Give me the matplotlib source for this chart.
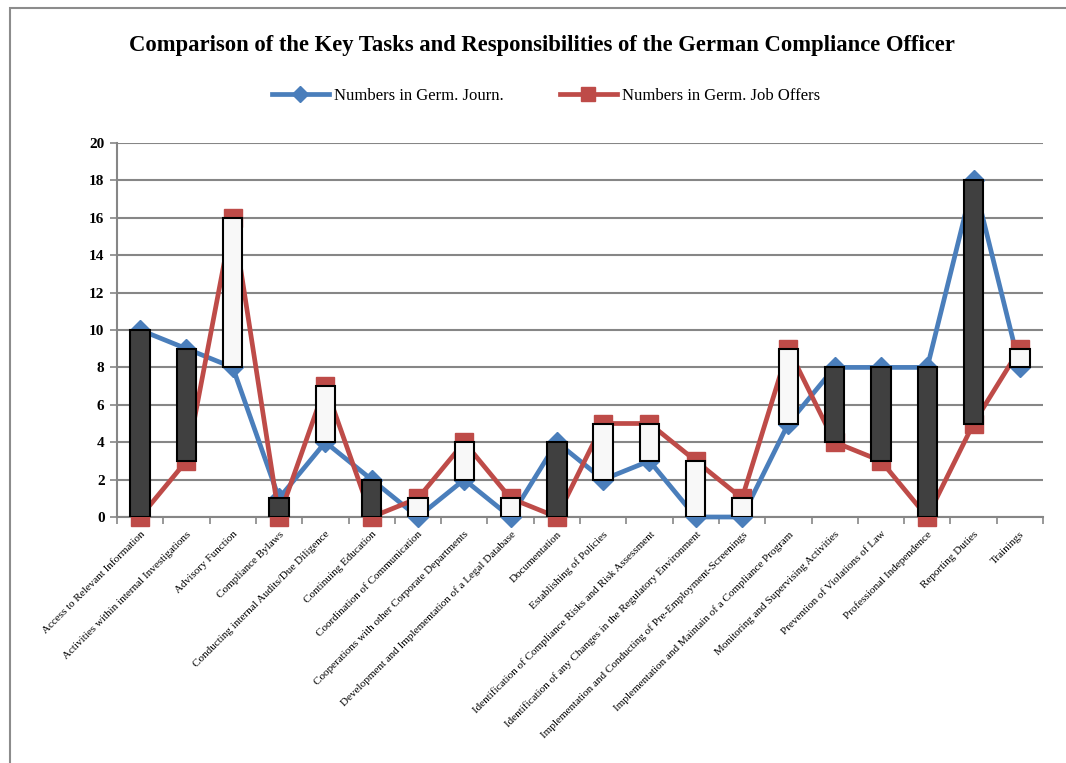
import numpy as np
import matplotlib as mpl
from matplotlib import pyplot as pl
from matplotlib.patches import Rectangle

mpl.rcParams.update({
    'font.family': 'serif',
    'font.serif': ['Liberation Serif', 'DejaVu Serif'],
})

# categories and values
tasks = ['Access to Relevant Information',
         'Activities within internal Investigations',
         'Advisory Function',
         'Compliance Bylaws',
         'Conducting internal Audits/Due Diligence',
         'Continuing Education',
         'Coordination of Communication',
         'Cooperations with other Corporate Departments',
         'Development and Implementation of a Legal Database',
         'Documentation',
         'Establishing of Policies',
         'Identification of Compliance Risks and Risk Assessment',
         'Identification of any Changes in the Regulatory Environment',
         'Implementation and Conducting of Pre-Employment-Screenings',
         'Implementation and Maintain of a Compliance Program',
         'Monitoring and Supervising Activities',
         'Prevention of Violations of Law',
         'Professional Independence',
         'Reporting Duties',
         'Trainings']
journ = [10, 9, 8, 1, 4, 2, 0, 2, 0, 4, 2, 3, 0, 0, 5, 8, 8, 8, 18, 8]
offers = [0, 3, 16, 0, 7, 0, 1, 4, 1, 0, 5, 5, 3, 1, 9, 4, 3, 0, 5, 9]
yticks = [0, 2, 4, 6, 8, 10, 12, 14, 16, 18, 20]

blue = '#4A7EBB'
red = '#BE4B48'
grid = '#868686'

fig = pl.figure(figsize=(10.66, 7.63), dpi=100)
# outer chart frame (right and bottom edges run off the image)
fig.patches.append(Rectangle((10/1066, -0.01), 1.1, 1 - 8/763 + 0.01,
                             transform=fig.transFigure, fill=False,
                             edgecolor='#8C8C8C', linewidth=1.5))

ax = fig.add_axes([117/1066, 1 - 517/763, (1043 - 117)/1066, (517 - 143)/763])
x = np.arange(len(tasks))

ax.plot(x, journ, color=blue, linewidth=3.4, marker='D', markersize=10,
        label='Numbers in Germ. Journ.', zorder=3, clip_on=False)
ax.plot(x, offers, color=red, linewidth=3.4, marker='s', markersize=13,
        label='Numbers in Germ. Job Offers', zorder=3, clip_on=False)

# up/down bars
for xi, j, o in zip(x, journ, offers):
    if o == j:
        continue
    fc = '#F8F8F8' if o > j else '#404040'
    ax.bar(xi, abs(o - j), bottom=min(o, j), width=0.42, color=fc,
           edgecolor='black', linewidth=1.5, zorder=4)

ax.set_xlim(-0.5, len(tasks) - 0.5)
ax.set_ylim(0, 20)
ax.set_yticks(yticks)
ax.set_yticklabels([str(v) for v in yticks], fontsize=11, fontweight='bold')
ax.yaxis.grid(True, color=grid, linewidth=1.5)
ax.set_axisbelow(True)

ax.set_xticks(x)
ax.set_xticklabels(tasks, rotation=45, ha='right', va='top',
                   rotation_mode='anchor', fontsize=8)
ax.tick_params(axis='x', length=0, pad=9)
ax.set_xticks(np.arange(-0.5, len(tasks)), minor=True)
ax.tick_params(axis='x', which='minor', length=5, color=grid, width=1.2)
ax.tick_params(axis='y', length=5, color=grid, width=1.2, pad=4)

for side in ['top', 'right']:
    ax.spines[side].set_visible(False)
for side in ['left', 'bottom']:
    ax.spines[side].set_color(grid)
    ax.spines[side].set_linewidth(1.5)

fig.text(0.508, 1 - 45/763, 'Comparison of the Key Tasks and Responsibilities of the German Compliance Officer',
         ha='center', va='center', fontsize=16.3, fontweight='bold')
fig.legend(loc='center', bbox_to_anchor=(0.512, 1 - 96/763), ncol=2, frameon=False,
           fontsize=12, handlelength=3.4, handletextpad=0.3, columnspacing=3.4,
           markerscale=0.8)

fig.savefig('out.png', dpi=100)
